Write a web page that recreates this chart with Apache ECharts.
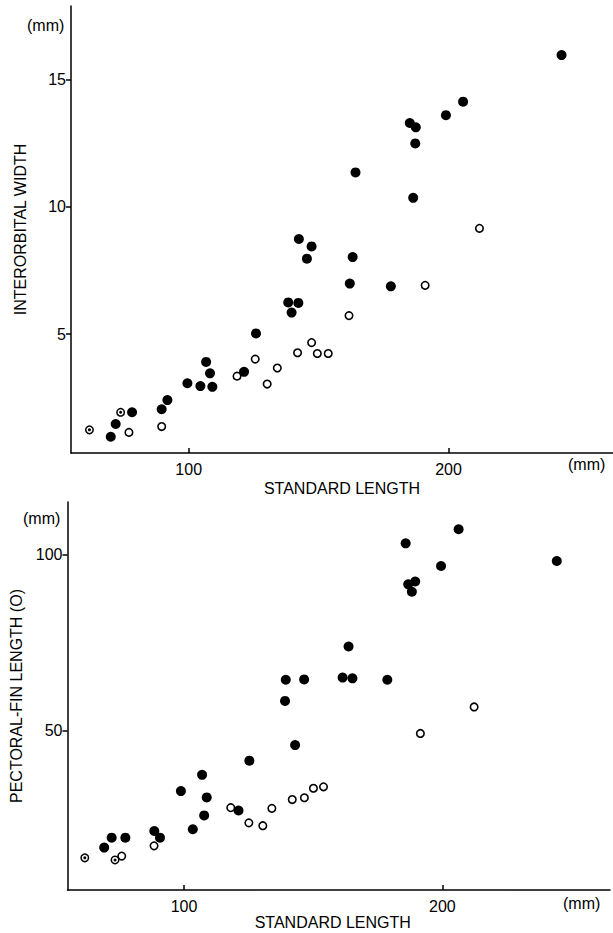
<!DOCTYPE html>
<html>
<head>
<meta charset="utf-8">
<script src="https://cdn.jsdelivr.net/npm/echarts@6/dist/echarts.min.js"></script>
<style>
html,body{margin:0;padding:0;background:#fff;}
#c{width:613px;height:933px;}
</style>
</head>
<body>
<div id="c"></div>
<script>
// ---- Data (standard length mm, measurement mm) ----
var topFilled = [[70.0,0.97],[71.9,1.47],[78.2,1.93],[89.6,2.05],[91.8,2.41],[99.5,3.07],[104.5,2.96],[106.7,3.91],[108.2,3.46],[109.1,2.93],[121.3,3.52],[125.9,5.03],[138.3,6.25],[139.6,5.85],[142.2,6.23],[142.4,8.74],[145.5,7.97],[147.3,8.45],[162.0,6.99],[163.1,8.03],[164.2,11.36],[177.8,6.88],[185.1,13.30],[187.4,13.13],[187.2,12.50],[186.4,10.36],[199.0,13.61],[205.6,14.14],[243.5,15.97]];
var topOpen = [[77.0,1.14],[89.6,1.37],[118.6,3.35],[125.6,4.02],[130.2,3.04],[134.1,3.67],[141.9,4.27],[147.3,4.67],[149.5,4.24],[153.7,4.24],[161.7,5.73],[191.0,6.92],[211.9,9.16]];
var topBull = [[61.8,1.24],[73.8,1.93]];

var botFilled = [[69.1,17.0],[72.0,19.8],[77.3,19.8],[88.5,21.7],[90.7,19.8],[98.8,33.0],[103.4,22.2],[107.0,37.6],[108.8,31.2],[107.8,26.1],[121.1,27.5],[125.3,41.6],[139.4,64.5],[139.1,58.5],[146.5,64.6],[143.0,46.0],[161.4,65.1],[165.2,64.9],[163.7,73.9],[178.7,64.5],[185.8,103.1],[206.3,107.1],[199.5,96.7],[189.5,92.3],[186.8,91.5],[188.2,89.4],[244.3,98.1]];
var botOpen = [[75.9,14.6],[88.4,17.5],[118.1,28.3],[125.1,24.0],[130.5,23.2],[134.0,28.1],[141.9,30.6],[146.6,31.1],[150.1,33.8],[154.0,34.2],[191.5,49.3],[212.3,56.8]];
var botBull = [[61.6,14.1],[73.3,13.5]];

var xTicks = [100, 200];
var topYTicks = [5, 10, 15];
var botYTicks = [50, 100];

var xTitle = 'STANDARD LENGTH';
var topYTitle = 'INTERORBITAL WIDTH';
var botYTitle = 'PECTORAL-FIN LENGTH (O)';
var unitLabel = '(mm)';

// ---- Chart ----
var FONT = 'Liberation Sans, Arial, Helvetica, sans-serif';
var line = {show:true, onZero:false, lineStyle:{color:'#000', width:1.5}};

function xAx(idx, min, max, gap, pad){
  return {type:'value', gridIndex:idx, min:min, max:max,
    axisLine:line, splitLine:{show:false},
    axisTick:{show:true, inside:true, length:5, customValues:xTicks, lineStyle:{color:'#000',width:1.5}},
    axisLabel:{customValues:xTicks, margin:8, color:'#000', fontFamily:FONT, fontSize:16},
    name:xTitle, nameLocation:'middle', nameGap:gap,
    nameTextStyle:{color:'#000', fontFamily:FONT, fontSize:16, padding:pad}};
}
function yAx(idx, min, max, ticks, title, gap){
  return {type:'value', gridIndex:idx, min:min, max:max,
    axisLine:line, splitLine:{show:false},
    axisTick:{show:true, inside:false, length:5, customValues:ticks, lineStyle:{color:'#000',width:1.5}},
    axisLabel:{customValues:ticks, margin:5, color:'#000', fontFamily:FONT, fontSize:16},
    name:title, nameLocation:'middle', nameGap:gap, nameRotate:90,
    nameTextStyle:{color:'#000', fontFamily:FONT, fontSize:16}};
}
function filled(data, i){
  return {type:'scatter', xAxisIndex:i, yAxisIndex:i, data:data, symbol:'circle', symbolSize:10,
    itemStyle:{color:'#000', opacity:1}, silent:true};
}
function open(data, i){
  return {type:'scatter', xAxisIndex:i, yAxisIndex:i, data:data, symbol:'circle', symbolSize:7.5,
    itemStyle:{color:'#fff', borderColor:'#000', borderWidth:1.6, opacity:1}, silent:true};
}
function bullRing(data, i){
  return {type:'scatter', xAxisIndex:i, yAxisIndex:i, data:data, symbol:'circle', symbolSize:7.5,
    itemStyle:{color:'#fff', borderColor:'#000', borderWidth:1.5, opacity:1}, silent:true, z:3};
}
function bullDot(data, i){
  return {type:'scatter', xAxisIndex:i, yAxisIndex:i, data:data, symbol:'circle', symbolSize:3,
    itemStyle:{color:'#000', opacity:1}, silent:true, z:4};
}

var chart = echarts.init(document.getElementById('c'), null, {renderer:'svg'});
chart.setOption({
  backgroundColor:'#fff',
  animation:false,
  grid:[
    {left:71, top:6, width:542, height:447},
    {left:67.5, top:502, width:542.5, height:388}
  ],
  xAxis:[ xAx(0, 54.7, 263.3, 27, [0,0,0,0]), xAx(1, 54.9, 264.9, 23, [0,12,0,0]) ],
  yAxis:[ yAx(0, 0.33, 17.9, topYTicks, topYTitle, 43), yAx(1, 5.0, 114.8, botYTicks, botYTitle, 40) ],
  graphic:[
    {type:'text', left:27, top:17, style:{text:unitLabel, fill:'#000', font:'16px '+FONT}},
    {type:'text', left:568, top:456, style:{text:unitLabel, fill:'#000', font:'16px '+FONT}},
    {type:'text', left:23, top:510, style:{text:unitLabel, fill:'#000', font:'16px '+FONT}},
    {type:'text', left:563, top:895, style:{text:unitLabel, fill:'#000', font:'16px '+FONT}}
  ],
  series:[
    filled(topFilled,0), open(topOpen,0), bullRing(topBull,0), bullDot(topBull,0),
    filled(botFilled,1), open(botOpen,1), bullRing(botBull,1), bullDot(botBull,1)
  ]
});
</script>
</body>
</html>
